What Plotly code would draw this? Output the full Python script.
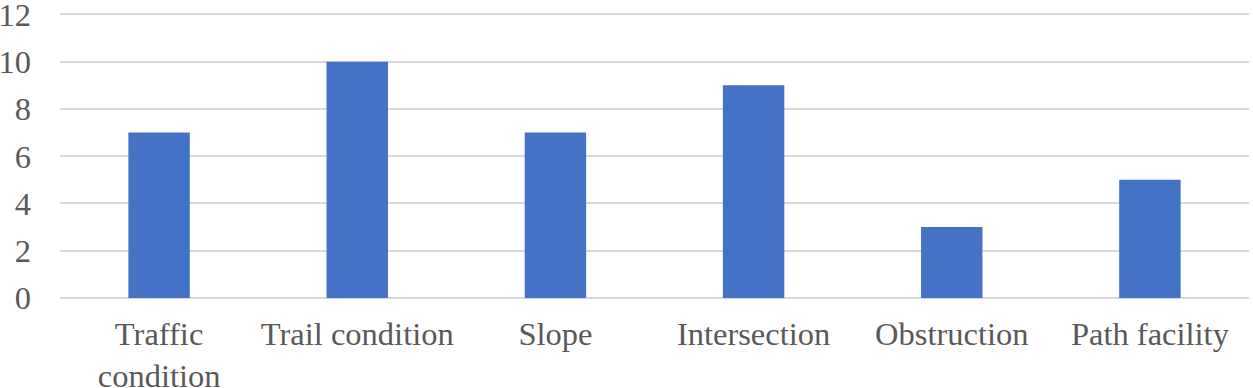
import plotly.graph_objects as go

categories = ["Traffic<br>condition", "Trail condition", "Slope", "Intersection", "Obstruction", "Path facility"]
values = [7, 10, 7, 9, 3, 5]
y_ticks = [0, 2, 4, 6, 8, 10, 12]

font = dict(family="Liberation Serif, Times New Roman, serif", size=32.5, color="#595959")

fig = go.Figure(go.Bar(x=categories, y=values, marker=dict(color="#4472C4", line=dict(width=0)), width=0.31))
fig.update_layout(
    width=1253, height=388,
    margin=dict(l=60, r=4, t=12, b=90),
    paper_bgcolor="white", plot_bgcolor="white",
    font=font, showlegend=False,
)
fig.update_xaxes(showgrid=False, showline=False, tickfont=font, ticks="", ticklabelstandoff=13,
                 tickangle=0, automargin=False)
fig.update_yaxes(range=[0, 12.1], tickvals=y_ticks, ticktext=[str(v) for v in y_ticks],
                 showgrid=True, gridcolor="#d9d9d9", gridwidth=2,
                 zeroline=True, zerolinecolor="#d9d9d9", zerolinewidth=2, showline=False,
                 tickfont=font, ticklabelstandoff=28, automargin=False, ticklabeloverflow="allow")
fig.write_html("out.html", post_script="document.body.style.margin='0';",
               config={"displayModeBar": False})
